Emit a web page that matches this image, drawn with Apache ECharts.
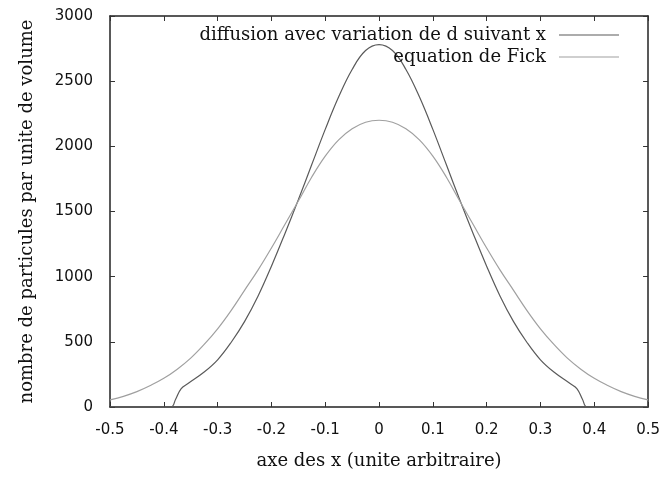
<!DOCTYPE html>
<html>
<head>
<meta charset="utf-8">
<script src="https://cdn.jsdelivr.net/npm/echarts@6/dist/echarts.min.js"></script>
<style>
  html, body { margin: 0; padding: 0; background: #fff; }
  #chart { width: 663px; height: 477px; }
</style>
</head>
<body>
<div id="chart"></div>
<script>
// valeurs
const diffX = [-0.5, -0.387, -0.378, -0.368, -0.355, -0.325, -0.3, -0.275, -0.25, -0.225, -0.2, -0.175, -0.15, -0.125, -0.1, -0.075, -0.05, -0.025, 0,
  0.025, 0.05, 0.075, 0.1, 0.125, 0.15, 0.175, 0.2, 0.225, 0.25, 0.275, 0.3, 0.325, 0.355, 0.368, 0.378, 0.387, 0.5];
const diffY = [0, 0, 60, 140, 180, 268, 362, 495, 655, 850, 1080, 1330, 1590, 1860, 2130, 2380, 2590, 2735, 2780,
  2735, 2590, 2380, 2130, 1860, 1590, 1330, 1080, 850, 655, 495, 362, 268, 180, 140, 60, 0, 0];

const fickX = [-0.5, -0.475, -0.45, -0.425, -0.4, -0.375, -0.35, -0.325, -0.3, -0.275, -0.25, -0.225, -0.2, -0.175, -0.15, -0.125, -0.1, -0.075, -0.05, -0.025, 0,
  0.025, 0.05, 0.075, 0.1, 0.125, 0.15, 0.175, 0.2, 0.225, 0.25, 0.275, 0.3, 0.325, 0.35, 0.375, 0.4, 0.425, 0.45, 0.475, 0.5];
const fickY = [55, 82, 118, 165, 220, 290, 375, 480, 600, 740, 895, 1050, 1220, 1400, 1580, 1765, 1925, 2050, 2135, 2185, 2200,
  2185, 2135, 2050, 1925, 1765, 1580, 1400, 1220, 1050, 895, 740, 600, 480, 375, 290, 220, 165, 118, 82, 55];

const names = ['diffusion avec variation de d suivant x', 'equation de Fick'];

const serif = '"DejaVu Serif", serif';
const sans = '"DejaVu Sans", sans-serif';

function pairs(xs, ys) {
  return xs.map(function (x, i) { return [x, ys[i]]; });
}

const chart = echarts.init(document.getElementById('chart'));
const border = { show: true, onZero: false, lineStyle: { color: '#222', width: 1.5 } };
const tick = { show: true, inside: true, length: 5, lineStyle: { color: '#333' } };
const legendText = { fontFamily: serif, fontSize: 18, color: '#111', padding: [0, 8, 0, 0] };

chart.setOption({
  animation: false,
  backgroundColor: '#fff',
  grid: { left: 110, right: 13, top: 16, bottom: 70 },
  legend: [{
    data: [names[0]], right: 39, top: 21, orient: 'vertical', align: 'right',
    icon: 'rect', itemWidth: 60, itemHeight: 1.2, textStyle: legendText
  }, {
    data: [names[1]], right: 39, top: 43, orient: 'vertical', align: 'right',
    icon: 'rect', itemWidth: 60, itemHeight: 1.2, textStyle: legendText
  }],
  xAxis: [{
    type: 'value', min: -0.5, max: 0.5, interval: 0.1, position: 'bottom',
    name: 'axe des x (unite arbitraire)', nameLocation: 'middle', nameGap: 45,
    nameTextStyle: { fontFamily: serif, fontSize: 18, color: '#111' },
    axisLine: border, axisTick: tick, splitLine: { show: false },
    axisLabel: {
      fontFamily: sans, fontSize: 15, color: '#111', margin: 16,
      formatter: function (v) { return String(Math.round(v * 10) / 10); }
    }
  }, {
    type: 'value', min: -0.5, max: 0.5, interval: 0.1, position: 'top',
    axisLine: border, axisTick: tick, axisLabel: { show: false }, splitLine: { show: false }
  }],
  yAxis: [{
    type: 'value', min: 0, max: 3000, interval: 500, position: 'left',
    name: 'nombre de particules par unite de volume', nameLocation: 'middle', nameGap: 74,
    nameTextStyle: { fontFamily: serif, fontSize: 18, color: '#111' },
    axisLine: border, axisTick: tick, splitLine: { show: false },
    axisLabel: {
      fontFamily: sans, fontSize: 15, color: '#111', margin: 17,
      formatter: function (v) { return String(v); }
    }
  }, {
    type: 'value', min: 0, max: 3000, interval: 500, position: 'right',
    axisLine: border, axisTick: tick, axisLabel: { show: false }, splitLine: { show: false }
  }],
  series: [{
    name: names[0], type: 'line', symbol: 'none', smooth: 0.4,
    data: pairs(diffX, diffY),
    lineStyle: { color: '#5a5a5a', width: 1.2 }, itemStyle: { color: '#5a5a5a' }
  }, {
    name: names[1], type: 'line', symbol: 'none', smooth: 0.4,
    data: pairs(fickX, fickY),
    lineStyle: { color: '#a0a0a0', width: 1.2 }, itemStyle: { color: '#a0a0a0' }
  }]
});
</script>
</body>
</html>
